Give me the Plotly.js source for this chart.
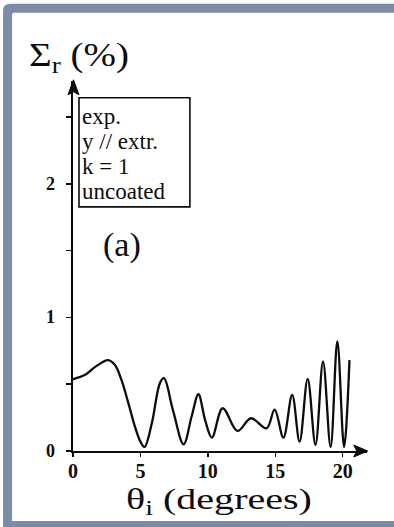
<!DOCTYPE html>
<html>
<head>
<meta charset="utf-8">
<script src="https://cdn.plot.ly/plotly-3.0.1.min.js"></script>
<style>
  html, body { margin: 0; padding: 0; background: #ffffff; }
  #chart { width: 394px; height: 527px; }
</style>
</head>
<body>
<div id="chart"></div>
<script>
// ---- data ----
const theta = [0, 0.9, 1.65, 2.6, 3.1, 3.6, 4.1, 4.6, 5.0, 5.3, 5.85, 6.45, 6.75, 7.4, 8.2, 8.8, 9.3, 9.8, 10.3, 11.1, 12.2, 13.2, 14.35, 14.95, 15.6, 16.25, 16.8, 17.4, 17.98, 18.54, 19.1, 19.6, 20.1, 20.5];
const sigma = [0.537, 0.57, 0.63, 0.68, 0.645, 0.53, 0.36, 0.18, 0.07, 0.03, 0.21, 0.51, 0.545, 0.31, 0.05, 0.26, 0.425, 0.23, 0.10, 0.32, 0.15, 0.245, 0.17, 0.31, 0.10, 0.42, 0.07, 0.54, 0.045, 0.67, 0.03, 0.82, 0.03, 0.68];
const xTickVals = [0, 5, 10, 15, 20];
const yTickVals = [0, 1, 2];
const legendLines = ["exp.", "y // extr.", "k = 1", "uncoated"];
const panelLabel = "(a)";
const yTitle = "Σ<sub>r</sub> (%)";
const xTitle = "θ<sub>i</sub> (degrees)";

// ---- geometry ----
const FIG_W = 394, FIG_H = 527;
const X_MAX = 21.8, Y_MAX = 2.77;
const L = 73, B = 451;
const PX_PER_X = 13.5, PX_PER_Y = 133.5;
const W = X_MAX * PX_PER_X, H = Y_MAX * PX_PER_Y;
const px2paperX = p => (p - L) / W;
const px2paperY = p => (B - p) / H;
const P = (x, y) => px2paperX(x).toFixed(5) + "," + px2paperY(y).toFixed(5);

const serif = "Liberation Serif, Times New Roman, serif";
const ink = "#0d0d0d";
const frameColor = "#7d8ca6";

const trace = {
  x: theta, y: sigma, type: "scatter", mode: "lines",
  line: { color: ink, width: 2.3, shape: "spline", smoothing: 1 },
  hoverinfo: "skip", cliponaxis: false
};

const annotations = [];
// y tick labels, set a little away from the axis as in the reference
yTickVals.forEach(v => {
  annotations.push({ x: px2paperX(56), y: v, xref: "paper", yref: "y", xanchor: "right", yanchor: "middle",
    text: String(v), showarrow: false, borderpad: 0,
    font: { family: serif, size: 18, color: ink, weight: "bold" } });
});
// axis titles (paper coords so they can sit outside the plot area)
annotations.push({ x: px2paperX(27), y: px2paperY(58), xref: "paper", yref: "paper", xanchor: "left", yanchor: "middle",
  text: yTitle, showarrow: false, font: { family: serif, size: 33, color: ink } });
annotations.push({ x: px2paperX(124), y: px2paperY(501), xref: "paper", yref: "paper", xanchor: "left", yanchor: "middle",
  text: xTitle, showarrow: false, font: { family: serif, size: 30, color: ink } });
// legend box lines
const lineCenters = [117, 142, 167, 192];
legendLines.forEach((t, i) => {
  annotations.push({ x: px2paperX(81), y: px2paperY(lineCenters[i]), xref: "paper", yref: "paper", xanchor: "left", yanchor: "middle",
    text: t, showarrow: false, borderpad: 0, font: { family: serif, size: 23, color: ink } });
});
// panel label
annotations.push({ x: px2paperX(122), y: px2paperY(245), xref: "paper", yref: "paper", xanchor: "center", yanchor: "middle",
  text: panelLabel, showarrow: false, font: { family: serif, size: 34, color: ink } });

const shapes = [
  // legend box
  { type: "rect", xref: "paper", yref: "paper", x0: px2paperX(79), x1: px2paperX(190), y0: px2paperY(207), y1: px2paperY(98),
    line: { color: ink, width: 1.6 }, fillcolor: "rgba(0,0,0,0)" },
  // axis arrowheads
  { type: "path", xref: "paper", yref: "paper", fillcolor: ink, line: { color: ink, width: 1 },
    path: "M" + P(368, 451) + "L" + P(354, 445) + "L" + P(357, 451) + "L" + P(354, 457) + "Z" },
  { type: "path", xref: "paper", yref: "paper", fillcolor: ink, line: { color: ink, width: 1 },
    path: "M" + P(73.5, 80) + "L" + P(68, 95) + "L" + P(73.5, 92) + "L" + P(79, 95) + "Z" },
  // outer frame (left, top and bottom bands, rounded top-left corner)
  { type: "path", xref: "paper", yref: "paper", fillcolor: frameColor, line: { width: 0 },
    path: "M" + P(3, 527) + "L" + P(3, 11) + "Q" + P(3, 4) + " " + P(10, 4) + "L" + P(400, 4) + "L" + P(400, 13) +
          "L" + P(14, 13) + "Q" + P(12, 13) + " " + P(12, 15) + "L" + P(12, 521) + "L" + P(400, 521) + "L" + P(400, 527) + "Z" }
];

const layout = {
  width: FIG_W, height: FIG_H,
  margin: { l: L, r: FIG_W - L - W, t: B - H, b: FIG_H - B, pad: 0 },
  paper_bgcolor: "#ffffff", plot_bgcolor: "#ffffff",
  showlegend: false,
  xaxis: {
    range: [0, X_MAX], showgrid: false, zeroline: false,
    showline: true, linecolor: ink, linewidth: 2,
    tickmode: "array", tickvals: xTickVals, ticktext: xTickVals.map(String),
    ticks: "outside", ticklen: 4, tickwidth: 1.5, tickcolor: ink,
    ticklabelstandoff: -3,
    tickfont: { family: serif, size: 20, color: ink, weight: "bold" }
  },
  yaxis: {
    range: [0, Y_MAX], showgrid: false, zeroline: false,
    showline: true, linecolor: ink, linewidth: 2,
    tickmode: "array", tickvals: yTickVals, showticklabels: false,
    ticks: "outside", ticklen: 5, tickwidth: 1.5, tickcolor: ink,
    minor: { dtick: 0.5, ticks: "outside", ticklen: 5, tickwidth: 1.5, tickcolor: ink }
  },
  annotations: annotations,
  shapes: shapes
};

// widths (px) the scanned lettering occupies in the reference; titles are widened to match
const textWidths = { "θi (degrees)": 186, "Σr (%)": 100 };
const clean = s => s.replace(/[\u200b\u00a0]/g, "").trim();

Plotly.newPlot("chart", [trace], layout, { displayModeBar: false, staticPlot: true }).then(gd => {
  gd.querySelectorAll("text.annotation-text").forEach(t => {
    const target = textWidths[clean(t.textContent)];
    if (!target) return;
    const bb = t.getBBox();
    const k = target / bb.width;
    const x0 = bb.x;
    t.setAttribute("transform",
      "translate(" + x0.toFixed(2) + ",0) scale(" + k.toFixed(3) + ",1) translate(" + (-x0).toFixed(2) + ",0)");
  });
});
</script>
</body>
</html>
